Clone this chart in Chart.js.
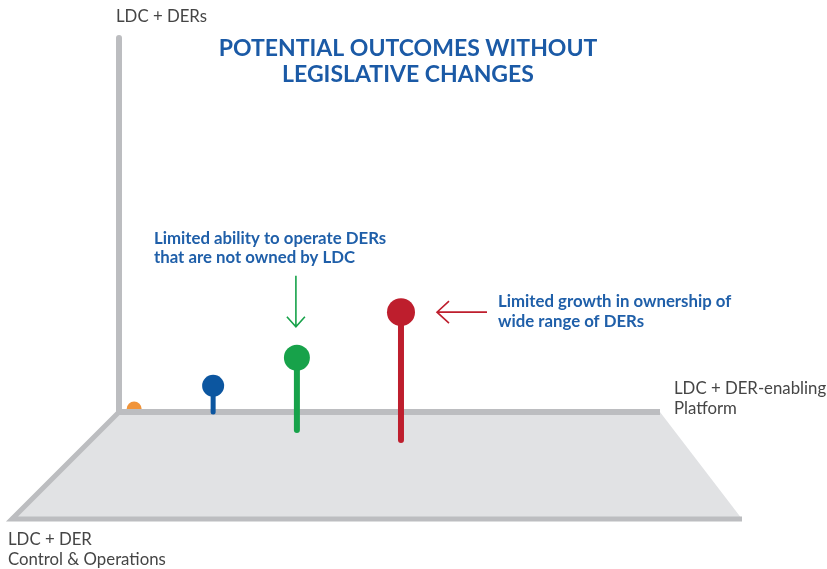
<!DOCTYPE html>
<html>
<head>
<meta charset="utf-8">
<script src="https://cdn.jsdelivr.net/npm/chart.js@4.4.1/dist/chart.umd.min.js"></script>
<style>
  html, body { margin: 0; padding: 0; background: #fff; }
  #wrap { width: 827px; height: 569px; }
</style>
</head>
<body>
<div id="wrap"><canvas id="scene" width="827" height="569"></canvas></div>
<script>
// outcomes, scored 0-10 on the three axes of the picture
const outcomes = ["LDC today", "Few LDC-owned DERs", "Limited DER operation", "Limited DER ownership"];
const platformLevel = [0.28, 1.74, 3.42, 5.25]; // LDC + DER-enabling Platform
const controlLevel = [0, 0, 1.68, 2.62];        // LDC + DER Control & Operations
const derLevel = [0.08, 0.7, 1.93, 3.42];       // LDC + DERs

const dotColors = ["#f0943a", "#0c56a0", "#17a24a", "#be1e2d"];
const dotSizes = [7.5, 11, 13, 14];
const stemWidths = [5, 5, 6, 6];

const titleLines = ["POTENTIAL OUTCOMES WITHOUT", "LEGISLATIVE CHANGES"];
const noteOperate = ["Limited ability to operate DERs", "that are not owned by LDC"];
const noteOwn = ["Limited growth in ownership of", "wide range of DERs"];
const axisDer = ["LDC + DERs"];
const axisPlatform = ["LDC + DER-enabling", "Platform"];
const axisControl = ["LDC + DER", "Control & Operations"];

// floor of the box (chart units = px, y reversed)
const BL = { x: 119, y: 412 }, BR = { x: 660, y: 412 };
const FL = { x: 12, y: 519 }, FR = { x: 742, y: 519 };
const H_UNIT = 37.4;

function project(p, c, h) {
  const u = p / 10, v = c / 10;
  const backX = BL.x + (BR.x - BL.x) * u;
  const frontX = FL.x + (FR.x - FL.x) * u;
  return {
    x: backX + (frontX - backX) * v,
    y: BL.y + (FL.y - BL.y) * v - (h || 0) * H_UNIT
  };
}

const frameGrey = "#bcbdc0";

const datasets = [];

// lollipops
outcomes.forEach((name, i) => {
  datasets.push({
    label: name,
    data: [
      project(platformLevel[i], controlLevel[i], 0),
      project(platformLevel[i], controlLevel[i], derLevel[i])
    ],
    showLine: true,
    borderColor: dotColors[i],
    borderWidth: i === 0 ? 0 : stemWidths[i],
    borderCapStyle: "round",
    pointRadius: [0, dotSizes[i]],
    pointHoverRadius: [0, dotSizes[i]],
    pointBackgroundColor: dotColors[i],
    pointBorderWidth: 0,
    order: i === 0 ? 20 : 5 - i
  });
});

// floor
datasets.push({
  label: "floor",
  data: [project(0, 0), project(10, 0), project(10, 10), project(0, 10), project(0, 0)],
  showLine: true,
  fill: "shape",
  backgroundColor: "#e1e2e4",
  borderWidth: 0,
  pointRadius: 0,
  order: 15
});

// vertical wall axis
datasets.push({
  label: "wall",
  data: [project(0, 0, 10), project(0, 0, 0)],
  showLine: true,
  borderColor: frameGrey,
  borderWidth: 6,
  borderCapStyle: "round",
  pointRadius: 0,
  order: 12
});

// back edge
datasets.push({
  label: "back",
  data: [project(0, 0, 0), project(10, 0, 0)],
  showLine: true,
  borderColor: frameGrey,
  borderWidth: 6,
  borderCapStyle: "butt",
  pointRadius: 0,
  order: 12
});

// left + front edge
datasets.push({
  label: "front",
  data: [project(0, 0), project(0, 10), project(10, 10)],
  showLine: true,
  borderColor: frameGrey,
  borderWidth: 5,
  borderJoinStyle: "miter",
  pointRadius: 0,
  order: 12
});

const sceneText = {
  id: "sceneText",
  afterDatasetsDraw(chart) {
    const ctx = chart.ctx;
    ctx.save();
    ctx.textBaseline = "alphabetic";

    // title
    ctx.fillStyle = "#1b5aa6";
    ctx.font = "bold 23px Lato";
    ctx.textAlign = "center";
    titleLines.forEach((t, k) => ctx.fillText(t, 408, 56 + k * 26));

    // notes
    ctx.textAlign = "left";
    ctx.fillStyle = "#1f5fa9";
    ctx.font = "bold 16.8px Lato";
    noteOperate.forEach((t, k) => ctx.fillText(t, 154, 244 + k * 19));
    noteOwn.forEach((t, k) => ctx.fillText(t, 498, 307 + k * 20));

    // axis labels
    ctx.fillStyle = "#454545";
    ctx.font = "16.8px Lato";
    axisDer.forEach((t, k) => ctx.fillText(t, 116, 22 + k * 19));
    axisPlatform.forEach((t, k) => ctx.fillText(t, 674, 394 + k * 19.5));
    axisControl.forEach((t, k) => ctx.fillText(t, 8, 545 + k * 19.5));

    // arrows pointing at the green and red dots
    const green = chart.getDatasetMeta(2).data[1];
    const red = chart.getDatasetMeta(3).data[1];
    ctx.lineWidth = 1.6;
    ctx.lineCap = "butt";

    ctx.strokeStyle = dotColors[2];
    const gTip = green.y - dotSizes[2] - 18;
    ctx.beginPath();
    ctx.moveTo(green.x - 1, gTip - 51);
    ctx.lineTo(green.x - 1, gTip);
    ctx.moveTo(green.x - 10, gTip - 10);
    ctx.lineTo(green.x - 1, gTip);
    ctx.lineTo(green.x + 8, gTip - 10);
    ctx.stroke();

    ctx.strokeStyle = dotColors[3];
    const rTip = red.x + dotSizes[3] + 22;
    ctx.beginPath();
    ctx.moveTo(rTip + 50, red.y);
    ctx.lineTo(rTip, red.y);
    ctx.moveTo(rTip + 12, red.y - 11);
    ctx.lineTo(rTip, red.y);
    ctx.lineTo(rTip + 12, red.y + 11);
    ctx.stroke();

    ctx.restore();
  }
};

new Chart(document.getElementById("scene"), {
  type: "scatter",
  data: { datasets: datasets },
  options: {
    responsive: false,
    animation: false,
    devicePixelRatio: 1,
    events: [],
    layout: { padding: 0, autoPadding: false },
    elements: { line: { tension: 0 } },
    scales: {
      x: { type: "linear", min: 0, max: 827, display: false },
      y: { type: "linear", min: 0, max: 569, reverse: true, display: false }
    },
    plugins: {
      legend: { display: false },
      tooltip: { enabled: false },
      title: { display: false }
    }
  },
  plugins: [sceneText]
});
</script>
</body>
</html>
